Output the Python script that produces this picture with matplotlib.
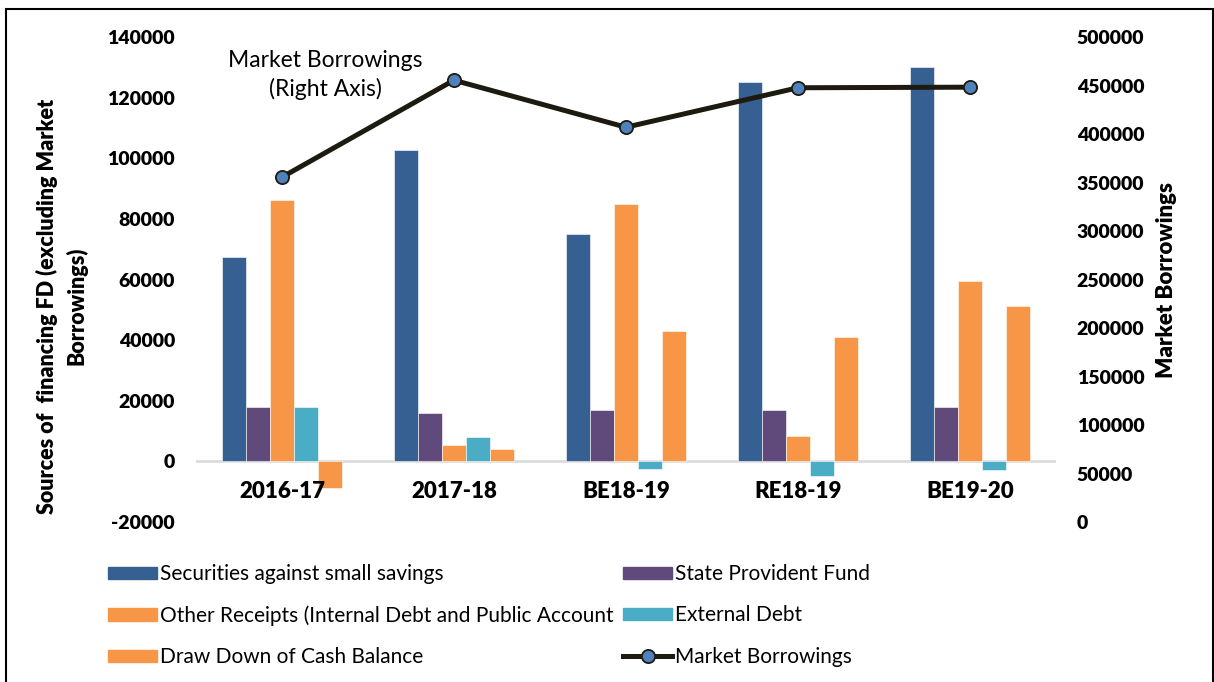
import numpy as np
import matplotlib
matplotlib.use("Agg")
import matplotlib.pyplot as plt
from matplotlib.patches import Patch, Rectangle
from matplotlib.lines import Line2D

plt.rcParams['font.family'] = ['Lato', 'DejaVu Sans']
plt.rcParams['axes.unicode_minus'] = False

# data
categories = ["2016-17", "2017-18", "BE18-19", "RE18-19", "BE19-20"]
small_savings = [67500, 102700, 75000, 125100, 130000]
state_pf = [17900, 15900, 17100, 17100, 18000]
other_receipts = [86100, 5400, 84800, 8300, 59600]
external_debt = [18000, 8100, -2500, -4900, -3000]
draw_down = [-8700, 4100, 43100, 41200, 51300]
market_borrowings = [355500, 455500, 407000, 447700, 448300]

bar_series = [
    ("Securities against small savings", small_savings, "#376092"),
    ("State Provident Fund", state_pf, "#604a7b"),
    ("Other Receipts (Internal Debt and Public Account", other_receipts, "#f79646"),
    ("External Debt", external_debt, "#4bacc6"),
    ("Draw Down of Cash Balance", draw_down, "#f79646"),
]

fig = plt.figure(figsize=(12.14, 6.82), dpi=100)
ax = fig.add_axes([0.1614, 0.2346, 0.7084, 0.7111])
ax2 = ax.twinx()

x = np.arange(len(categories))
w = 0.14
handles = {}
for i, (name, vals, col) in enumerate(bar_series):
    ax.bar(x + (i - 2) * w, vals, w, color=col, edgecolor="white", linewidth=0.4, zorder=2)
    handles[name] = Patch(facecolor=col, edgecolor=col)

ax.set_xlim(-0.5, 4.5)
ax.set_ylim(-20000, 140000)
ax.set_yticks(np.arange(-20000, 140001, 20000))
ax.axhline(0, color="#d9d9d9", lw=1.8, zorder=1)
for s in list(ax.spines.values()) + list(ax2.spines.values()):
    s.set_visible(False)
ax.tick_params(axis="y", length=0, pad=15, labelsize=14)
ax.set_xticks(x)
ax.set_xticklabels([])
ax.tick_params(axis="x", length=0)
for xi, lab in zip(x, categories):
    ax.annotate(lab, (xi, 0), xytext=(0, -30), textcoords="offset pixels",
                ha="center", va="center", fontsize=16, fontweight="heavy")
for t in ax.get_yticklabels():
    t.set_fontweight("heavy")

ax2.plot(x, market_borrowings, color="#1d1b10", lw=3.6, marker="o", ms=9.5,
         mfc="#4f81bd", mec="#1d1b10", mew=1.3, zorder=5)
ax2.set_ylim(0, 500000)
ax2.set_yticks(np.arange(0, 500001, 50000))
ax2.tick_params(axis="y", length=0, pad=15, labelsize=14)
for t in ax2.get_yticklabels():
    t.set_fontweight("heavy")
ax2.set_ylabel("Market Borrowings", fontsize=16, fontweight="heavy", labelpad=8)

ax.text(0.15, 0.922, "Market Borrowings\n(Right Axis)", transform=ax.transAxes,
        ha="center", va="center", fontsize=16.5, linespacing=1.35)

fig.text(62 / 1214, 1 - 306 / 682, "Sources of  financing FD (excluding Market\nBorrowings)",
         rotation=90, ha="center", va="center", fontsize=15.5, fontweight="heavy",
         multialignment="center", linespacing=1.4)

line_handle = Line2D([], [], color="#1d1b10", lw=3.6, marker="o", ms=9.5,
                     mfc="#4f81bd", mec="#1d1b10", mew=1.3)
order = ["Securities against small savings", "Other Receipts (Internal Debt and Public Account",
         "Draw Down of Cash Balance", "State Provident Fund", "External Debt"]
leg_h = [handles[n] for n in order] + [line_handle]
leg_l = order + ["Market Borrowings"]
fig.legend(leg_h, leg_l, ncol=2, loc="upper left", bbox_to_anchor=(104 / 1214, 1 - 560 / 682),
           frameon=False, fontsize=15, handlelength=2.35, handleheight=0.55,
           handletextpad=0.15, columnspacing=0.45, labelspacing=1.02, borderpad=0.2,
           borderaxespad=0)

fig.add_artist(Rectangle((6 / 1214, -0.01), 1206.5 / 1214, 1 - 9 / 682 + 0.01,
                         transform=fig.transFigure, fill=False, edgecolor="black", lw=1.5))

fig.savefig("out.png", dpi=100)
